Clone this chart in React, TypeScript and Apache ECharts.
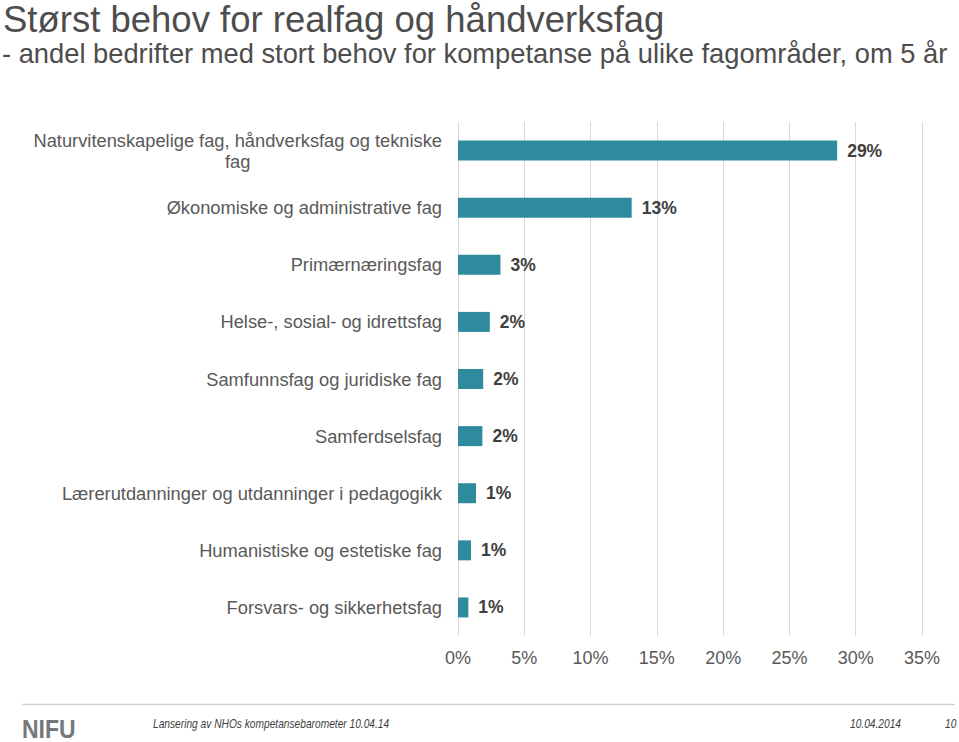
import React, { useEffect, useRef } from "react";
import * as echarts from "echarts";

const categories: string[] = [
  "Naturvitenskapelige fag, håndverksfag og tekniske\nfag",
  "Økonomiske og administrative fag",
  "Primærnæringsfag",
  "Helse-, sosial- og idrettsfag",
  "Samfunnsfag og juridiske fag",
  "Samferdselsfag",
  "Lærerutdanninger og utdanninger i pedagogikk",
  "Humanistiske og estetiske fag",
  "Forsvars- og sikkerhetsfag",
];

const shares: number[] = [28.6, 13.1, 3.2, 2.4, 1.9, 1.84, 1.36, 0.98, 0.78];

const titleText = "Størst behov for realfag og håndverksfag";
const subtitleText = "- andel bedrifter med stort behov for kompetanse på ulike fagområder, om 5 år";
const footerLeft = "Lansering av NHOs kompetansebarometer 10.04.14";
const footerDate = "10.04.2014";
const footerPage = "10";

const FONT = "'Liberation Sans', Arial, sans-serif";
const CAT_SIZE = 18.3;

export default function App() {
  const ref = useRef<HTMLDivElement>(null);

  useEffect(() => {
    if (!ref.current) return;
    const chart = echarts.init(ref.current, null, { renderer: "svg" });
    chart.setOption({
      animation: false,
      backgroundColor: "#ffffff",
      textStyle: { fontFamily: FONT },
      grid: { left: 458, right: 37, top: 122, height: 514, containLabel: false },
      xAxis: {
        type: "value",
        min: 0,
        max: 35,
        interval: 5,
        axisLine: { show: false },
        axisTick: { show: false },
        splitLine: { show: true, lineStyle: { color: "#d9d9d9", width: 1 } },
        axisLabel: {
          formatter: "{value}%",
          fontSize: 18,
          color: "#595959",
          fontFamily: FONT,
          margin: 13,
        },
      },
      yAxis: {
        type: "category",
        inverse: true,
        data: categories,
        axisLine: { show: false },
        axisTick: { show: false },
        axisLabel: {
          fontSize: CAT_SIZE,
          color: "#595959",
          fontFamily: FONT,
          margin: 16,
          lineHeight: 21,
          formatter: (v: string) => {
            if (v.indexOf("\n") >= 0) {
              const parts = v.split("\n");
              return "{a|" + parts[0] + "}\n{c|" + parts[1] + "}";
            }
            return v;
          },
          rich: {
            a: { fontSize: CAT_SIZE, color: "#595959", fontFamily: FONT, lineHeight: 21, align: "center" },
            c: { fontSize: CAT_SIZE, color: "#595959", fontFamily: FONT, lineHeight: 21, align: "center" },
          },
        },
      },
      series: [
        {
          type: "bar",
          data: shares,
          barWidth: 20,
          itemStyle: { color: "#2e8b9d" },
          label: {
            show: true,
            position: "right",
            distance: 10,
            fontSize: 17.5,
            fontWeight: "bold",
            color: "#404040",
            fontFamily: FONT,
            formatter: (p: any) => Math.round(p.value) + "%",
          },
        },
      ],
      graphic: [
        {
          type: "text",
          x: 3,
          y: 19.5,
          style: {
            text: titleText,
            fontSize: 36.5,
            lineHeight: 38,
            fontFamily: FONT,
            fill: "#4d4d4d",
            align: "left",
            verticalAlign: "middle",
          },
        },
        {
          type: "text",
          x: 2,
          y: 53.5,
          style: {
            text: subtitleText,
            fontSize: 27.3,
            fontFamily: FONT,
            fill: "#4d4d4d",
            align: "left",
            verticalAlign: "middle",
          },
        },
        {
          type: "line",
          shape: { x1: 22, y1: 704.5, x2: 955, y2: 704.5 },
          style: { stroke: "#d3d3d3", lineWidth: 1.5 },
        },
        {
          type: "text",
          x: 22,
          y: 729,
          scaleX: 0.92,
          style: {
            text: "NIFU",
            fontSize: 25,
            fontWeight: "bold",
            fontFamily: FONT,
            fill: "#75797c",
            align: "left",
            verticalAlign: "middle",
          },
        },
        {
          type: "text",
          x: 153,
          y: 724,
          scaleX: 0.85,
          style: {
            text: footerLeft,
            fontSize: 12,
            fontStyle: "italic",
            fontFamily: FONT,
            fill: "#404040",
            align: "left",
            verticalAlign: "middle",
          },
        },
        {
          type: "text",
          x: 850,
          y: 724,
          scaleX: 0.85,
          style: {
            text: footerDate,
            fontSize: 12,
            fontStyle: "italic",
            fontFamily: FONT,
            fill: "#404040",
            align: "left",
            verticalAlign: "middle",
          },
        },
        {
          type: "text",
          x: 945,
          y: 724,
          scaleX: 0.85,
          style: {
            text: footerPage,
            fontSize: 12,
            fontStyle: "italic",
            fontFamily: FONT,
            fill: "#404040",
            align: "left",
            verticalAlign: "middle",
          },
        },
      ],
    });
    return () => {
      chart.dispose();
    };
  }, []);

  return (
    <div
      ref={ref}
      style={{ position: "fixed", left: 0, top: 0, width: 959, height: 742, background: "#fff" }}
    />
  );
}
